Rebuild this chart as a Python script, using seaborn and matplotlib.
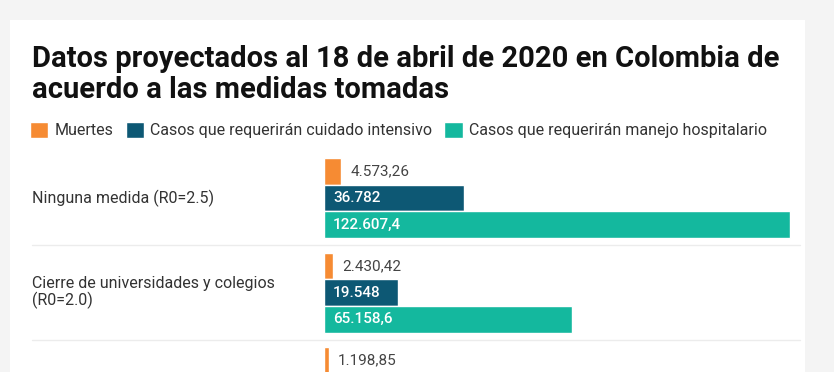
import numpy as np
import pandas as pd
import seaborn as sns
import matplotlib.pyplot as plt
from matplotlib.patches import Rectangle
from matplotlib.lines import Line2D
import matplotlib.transforms as mtransforms

sns.set_style("white")
plt.rcParams['font.family'] = ['Roboto', 'DejaVu Sans']

# datos
medidas = ['Ninguna medida (R0=2.5)',
           'Cierre de universidades y colegios\n(R0=2.0)',
           'Protección a personas mayores de 70 años']
muertes = [4573.26, 2430.42, 1198.85]
uci = [36782, 19548, np.nan]          # tercer grupo fuera del recorte
hospital = [122607.4, 65158.6, np.nan]
series = ['Muertes', 'Casos que requerirán cuidado intensivo',
          'Casos que requerirán manejo hospitalario']
decimales = [2, 0, 1]
colores = ['#F68B33', '#0D5874', '#14B89E']

df = pd.DataFrame({
    'medida': medidas * 3,
    'serie': np.repeat(series, 3),
    'valor': muertes + uci + hospital,
}).dropna()

def fmt(v, d):
    s = f"{v:,.{d}f}"
    return s.replace(',', 'X').replace('.', ',').replace('X', '.')

W, H = 834, 372
fig = plt.figure(figsize=(W / 100, H / 100), dpi=100, facecolor='#f4f4f4')
fig.patches.append(Rectangle((10 / W, 0), 795 / W, (H - 20) / H,
                             transform=fig.transFigure, facecolor='white',
                             edgecolor='none', zorder=-10))

ax = fig.add_axes([324 / W, 0, 481 / W, (H - 140) / H])
ax.set_facecolor('none')
sns.barplot(data=df, y='medida', x='valor', hue='serie', order=medidas,
            hue_order=series, palette=colores, orient='h', width=0.847,
            dodge=True, saturation=1, errorbar=None, ax=ax, legend=True)

ax.set_xlim(0, 126550)
ax.set_ylim(1.841, -0.614)
sns.despine(ax=ax, left=True, bottom=True)
ax.set_xticks([])
ax.set_yticks([])
ax.set_xlabel('')
ax.set_ylabel('')

# etiquetas de valores
for i, cont in enumerate(ax.containers):
    for bar in cont:
        w = bar.get_width()
        if not np.isfinite(w) or w == 0:
            continue
        yc = bar.get_y() + bar.get_height() / 2
        txt = fmt(w, decimales[i])
        off = mtransforms.offset_copy(ax.transData, fig=fig, x=9, y=0, units='dots')
        if i == 0:
            ax.text(w, yc, txt, transform=off, va='center', ha='left',
                    fontsize=11, color='#444444', clip_on=False)
        else:
            ax.text(bar.get_x(), yc, txt, transform=off, va='center', ha='left',
                    fontsize=11, color='white', fontweight='medium')

# nombres de las medidas
tr = mtransforms.blended_transform_factory(fig.transFigure, ax.transData)
for k, m in enumerate(medidas):
    ax.text(32 / W, k, m, transform=tr, va='center', ha='left',
            fontsize=11.5, color='#333333', linespacing=1.1, clip_on=False)
for yy in [0.5, 1.5]:
    ax.add_line(Line2D([32 / W, 800 / W], [yy, yy], transform=tr,
                       color='#ececec', lw=1, clip_on=False))

# titulo
fig.text(32 / W, 1 - 45 / H,
         'Datos proyectados al 18 de abril de 2020 en Colombia de\nacuerdo a las medidas tomadas',
         ha='left', va='top', fontsize=21, fontweight='bold', color='#111111',
         linespacing=1.12)

# leyenda
handles, labels = ax.get_legend_handles_labels()
ax.legend(handles, labels, ncol=3, frameon=False, loc='center left',
          bbox_to_anchor=(30 / W, 1 - 130 / H), bbox_transform=fig.transFigure,
          fontsize=11.5, handlelength=1.15, handleheight=1.15, handletextpad=0.4,
          columnspacing=0.75, borderpad=0, borderaxespad=0, labelcolor='#333333')

fig.savefig('out.png', dpi=100, facecolor=fig.get_facecolor())
